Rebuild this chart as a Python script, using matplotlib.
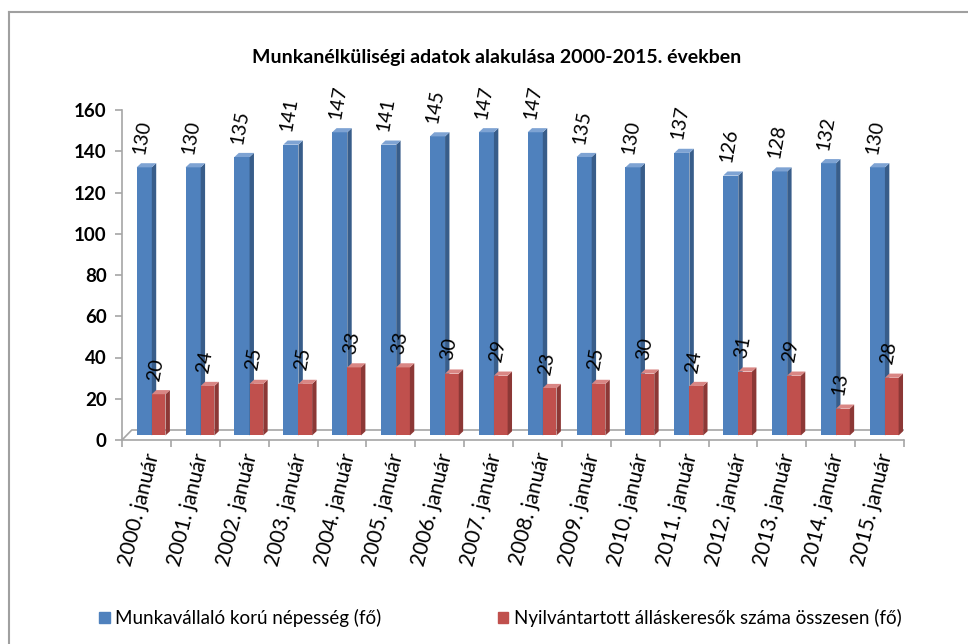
import matplotlib
matplotlib.use("Agg")
import matplotlib.pyplot as plt
from matplotlib.patches import Polygon, Patch
from matplotlib.lines import Line2D

plt.rcParams["font.family"] = ["Lato", "DejaVu Sans"]

years = list(range(2000, 2016))
labels = [f"{y}. január" for y in years]
nepesseg = [130, 130, 135, 141, 147, 141, 145, 147, 147, 135, 130, 137, 126, 128, 132, 130]
allaskeresok = [20, 24, 25, 25, 33, 33, 30, 29, 23, 25, 30, 24, 31, 29, 13, 28]

BLUE = ("#4F81BD", "#385D8A", "#7EA3D3")   # front, side, top
RED = ("#C0504D", "#8C3836", "#D98684")

BASE = 2.2      # bars stand on the middle of the floor slab
DX, DY = 0.09, 2.0   # 3D depth offset (category units, value units)
FLOOR = (0.2, 4.85)


def bar3d(ax, x0, w, v, cols):
    front, side, top = cols
    y0, y1 = BASE, BASE + v
    x1 = x0 + w
    ax.add_patch(Polygon([(x0, y0), (x1, y0), (x1, y1), (x0, y1)],
                         closed=True, fc=front, ec="none", zorder=3))
    ax.add_patch(Polygon([(x1, y0), (x1 + DX, y0 + DY), (x1 + DX, y1 + DY), (x1, y1)],
                         closed=True, fc=side, ec="none", zorder=3))
    ax.add_patch(Polygon([(x0, y1), (x1, y1), (x1 + DX, y1 + DY), (x0 + DX, y1 + DY)],
                         closed=True, fc=top, ec="none", zorder=3))


fig = plt.figure(figsize=(9.68, 6.44), dpi=100)
ax = fig.add_axes([122 / 968, 204 / 644, 782 / 968, 330 / 644])
n = len(years)
ax.set_xlim(0, n)
ax.set_ylim(0, 160)

# floor slab
fx, fy = FLOOR
ax.add_line(Line2D([0, fx, n + fx, n], [0, fy, fy, 0], color="#A6A6A6", lw=1.2, zorder=1))

for i in range(n):
    bar3d(ax, i + 0.30, 0.31, nepesseg[i], BLUE)
    bar3d(ax, i + 0.61, 0.28, allaskeresok[i], RED)
    ax.text(i + 0.35, BASE + nepesseg[i] + DY + 4.5, str(nepesseg[i]), rotation=80,
            rotation_mode="anchor", ha="left", va="center", fontsize=14, zorder=4)
    ax.text(i + 0.65, BASE + allaskeresok[i] + DY + 4.5, str(allaskeresok[i]), rotation=80,
            rotation_mode="anchor", ha="left", va="center", fontsize=14, zorder=4)
    ax.text(i + 0.64, -0.04, labels[i], transform=ax.get_xaxis_transform(),
            rotation=76, rotation_mode="anchor", ha="right", va="center", fontsize=15)

for s in ("top", "right"):
    ax.spines[s].set_visible(False)
ax.spines["left"].set_color("#A6A6A6")
ax.spines["bottom"].set_color("#A6A6A6")
ax.spines["left"].set_linewidth(1.2)
ax.spines["bottom"].set_linewidth(1.2)
ax.set_xticks(range(n + 1))
ax.set_xticklabels([])
ax.set_yticks(range(0, 161, 20))
ax.tick_params(axis="both", color="#A6A6A6", length=5, width=1.2)
ax.tick_params(axis="y", labelsize=13.5, pad=6)
for t in ax.get_yticklabels():
    t.set_fontweight("bold")

fig.text(0.513, 1 - 58 / 644, "Munkanélküliségi adatok alakulása 2000-2015. években",
         ha="center", va="center", fontsize=14, fontweight="bold")

handles = [Patch(color=BLUE[0]), Patch(color=RED[0])]
fig.legend(handles, ["Munkavállaló korú népesség (fő)",
                     "Nyilvántartott álláskeresők száma összesen (fő)"],
           loc="center", bbox_to_anchor=(0.517, 26 / 644), ncol=2, frameon=False,
           fontsize=13.5, handlelength=0.55, handleheight=0.55, handletextpad=0.3,
           columnspacing=6.2)

# chart border (only the top and left edges are in the picture)
fig.add_artist(Line2D([8.5 / 968, 8.5 / 968], [0, 1 - 12 / 644], color="#A0A0A0", lw=1.5))
fig.add_artist(Line2D([8.5 / 968, 1], [1 - 12 / 644, 1 - 12 / 644], color="#A0A0A0", lw=1.5))

fig.savefig("out.png", dpi=100)
